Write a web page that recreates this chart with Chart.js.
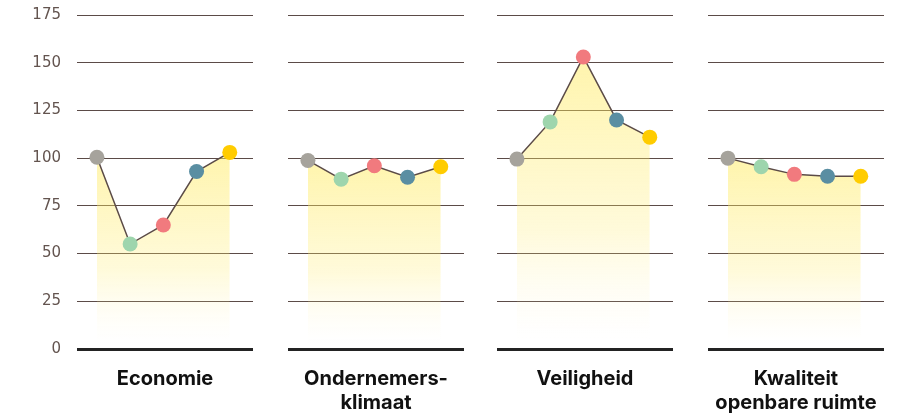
<!DOCTYPE html>
<html>
<head>
<meta charset="utf-8">
<script src="https://cdn.jsdelivr.net/npm/chart.js@4"></script>
<style>
  html, body { margin: 0; padding: 0; background: #ffffff; }
  #wrap { position: relative; width: 903px; height: 415px; }
  canvas { position: absolute; top: 0; }
</style>
</head>
<body>
<div id="wrap">
  <canvas id="c0" width="253" height="415" style="left:0px"></canvas>
  <canvas id="c1" width="176" height="415" style="left:288px"></canvas>
  <canvas id="c2" width="176" height="415" style="left:497px"></canvas>
  <canvas id="c3" width="176" height="415" style="left:708px"></canvas>
</div>
<script>
// Panel titles (x-axis titles)
const panelTitles = [
  ["Economie", ""],
  ["Ondernemers-", "klimaat"],
  ["Veiligheid", ""],
  ["Kwaliteit", "openbare ruimte"],
];

// Values per panel, five points each
const economie = [100.5, 55, 65, 93, 103];
const ondernemersklimaat = [98.8, 89, 96, 90, 95.5];
const veiligheid = [99.5, 119, 153, 120, 111];
const openbareRuimte = [100, 95.5, 91.5, 90.5, 90.5];

const panelValues = [economie, ondernemersklimaat, veiligheid, openbareRuimte];

// Y axis ticks
const yTicks = [0, 25, 50, 75, 100, 125, 150, 175];

const pointColors = ["#a6a39c", "#9ed5ad", "#f17a7e", "#5a8ea2", "#ffcc00"];

panelValues.forEach((values, p) => {
  let showTicks = p === 0;
  let ctx = document.getElementById("c" + p).getContext("2d");

  new Chart(ctx, {
    type: "line",
    data: {
      datasets: [
        {
          data: values.map((v, i) => ({ x: i, y: v })),
          borderColor: "#5b4b47",
          borderWidth: 1.5,
          pointRadius: 7.5,
          pointBorderWidth: 0,
          pointBackgroundColor: pointColors,
          tension: 0,
          clip: false,
          fill: "origin",
          backgroundColor: (context) => {
            let chart = context.chart;
            let area = chart.chartArea;
            if (!area) return "rgba(255,236,100,0.4)";
            let top = chart.scales.y.getPixelForValue(Math.max(...values));
            let g = chart.ctx.createLinearGradient(0, top, 0, area.bottom);
            g.addColorStop(0, "rgba(255,234,90,0.5)");
            g.addColorStop(0.6, "rgba(255,236,110,0.25)");
            g.addColorStop(0.97, "rgba(255,245,200,0.0)");
            return g;
          },
        },
      ],
    },
    options: {
      responsive: false,
      animation: false,
      events: [],
      layout: { autoPadding: false, padding: { top: 15, bottom: 0, left: 0, right: 0 } },
      plugins: { legend: { display: false }, tooltip: { enabled: false } },
      scales: {
        x: {
          type: "linear",
          min: -0.6,
          max: 4.7,
          grid: { display: false },
          border: { display: false },
          ticks: { display: false },
          title: {
            display: true,
            text: panelTitles[p],
            color: "#111111",
            font: { family: "Inter", size: 20, weight: "bold", lineHeight: 1.2 },
            padding: { top: 0, bottom: 0 },
          },
          afterFit: (scale) => {
            scale.height = 66;
          },
        },
        y: {
          min: 0,
          max: 175,
          afterBuildTicks: (scale) => {
            scale.ticks = yTicks.map((v) => ({ value: v }));
          },
          border: { display: false },
          grid: {
            drawTicks: false,
            color: (c) => (c.tick && c.tick.value === 0 ? "#232323" : "#5b4b47"),
            lineWidth: (c) => (c.tick && c.tick.value === 0 ? 3 : 1),
          },
          ticks: {
            display: showTicks,
            padding: 16,
            color: "#63544f",
            font: { family: "DejaVu Sans", size: 15 },
          },
          afterFit: (scale) => {
            // same plot area in every panel, labels don't push the top down
            scale.width = showTicks ? 77 : 0;
            scale.paddingTop = 0;
            scale.paddingBottom = 0;
          },
        },
      },
    },
  });
});
</script>
</body>
</html>
